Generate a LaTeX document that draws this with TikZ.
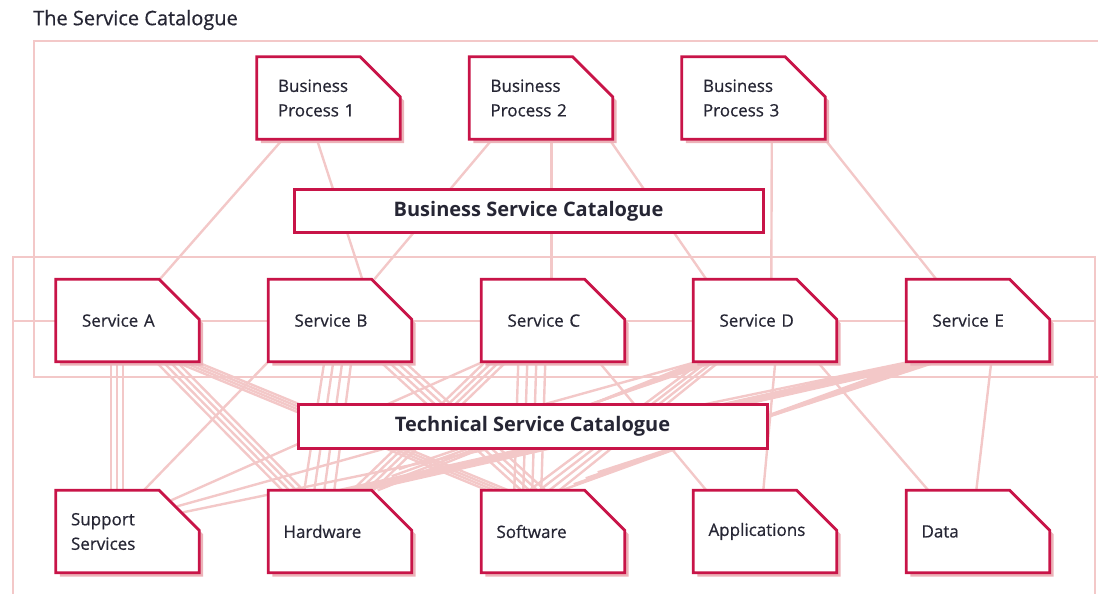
\documentclass[tikz,border=0pt]{standalone}
\usepackage{fontspec}
\setmainfont{Open Sans}
\newfontfamily\regfont{Open Sans}[FakeBold=0.6]
\usetikzlibrary{calc}
\definecolor{frame}{RGB}{200,20,72}
\definecolor{shadow}{RGB}{236,178,184}
\definecolor{linkc}{RGB}{243,200,200}
\definecolor{ink}{RGB}{38,38,52}
\pgfdeclarelayer{back}\pgfdeclarelayer{mid}
\pgfsetlayers{back,mid,main}
\newcommand\docshape[1]{%
  \fill[shadow] ([shift={(4pt,-4pt)}]#1.north west) -- ([shift={(-36pt,-4pt)}]#1.north east) -- ([shift={(4pt,-44pt)}]#1.north east) -- ([shift={(4pt,-4pt)}]#1.south east) -- ([shift={(4pt,-4pt)}]#1.south west) -- cycle;
  \draw[draw=frame, fill=white, line width=2.8pt, line join=miter] (#1.north west) -- ([xshift=-40pt]#1.north east) -- ([yshift=-40pt]#1.north east) -- (#1.south east) -- (#1.south west) -- cycle;}
\begin{document}
\begin{tikzpicture}[x=1pt,y=-1pt,
  doc/.style={rectangle, inner ysep=0pt, minimum height=82pt, font=\regfont\fontsize{17}{24.5}\selectfont, text=ink, align=left},
  bp/.style={doc, inner xsep=21pt, text width=101pt, minimum width=143pt},
  svc/.style={doc, inner xsep=26pt, text width=91pt, minimum width=143pt},
  res/.style={doc, inner xsep=15pt, text width=113pt, minimum width=143pt},
  cat/.style={rectangle, draw=frame, line width=3pt, fill=white, minimum width=469pt, minimum height=43pt, font=\bfseries\fontsize{20}{24}\selectfont, text=ink},
  lnk/.style={draw=linkc, line width=2.4pt},
]
\useasboundingbox (0,0) rectangle (1098,594);
\node[anchor=west, text=ink, font=\regfont\fontsize{20}{24}\selectfont, inner sep=0pt] (title) at (33,20) {The Service Catalogue};

\node[bp] (BPa) at (328.5,98) {Business\\Process 1};
\node[bp] (BPb) at (541,98) {Business\\Process 2};
\node[bp] (BPc) at (753.5,98) {Business\\Process 3};

\node[cat] (BSC) at (528.5,211) {Business Service Catalogue};

\node[svc, yshift=-2pt] (SvA) at (127.5,318.5) {Service A};
\node[svc, yshift=-2pt] (SvB) at (340,318.5) {Service B};
\node[svc, yshift=-2pt] (SvC) at (553,318.5) {Service C};
\node[svc, yshift=-2pt] (SvD) at (765,318.5) {Service D};
\node[svc, yshift=-2pt] (SvE) at (978,318.5) {Service E};

\node[cat, minimum height=44pt] (TSC) at (532.5,426) {Technical Service Catalogue};

\node[res] (Sup) at (127.5,531.5) {Support\\Services};
\node[res] (Hw) at (340,531.5) {Hardware};
\node[res] (Sw) at (553,531.5) {Software};
\node[res] (App) at (765,531.5) {Applications};
\node[res] (Dat) at (978,531.5) {Data};

\begin{pgfonlayer}{mid}
\foreach \n in {BPa,BPb,BPc,SvA,SvB,SvC,SvD,SvE,Sup,Hw,Sw,App,Dat} {\docshape{\n}}
\end{pgfonlayer}

\begin{pgfonlayer}{back}
% frames
\draw[lnk] (1098,41) -- (34,41) -- (34,377) -- (1098,377);
\draw[lnk] (13,594) -- (13,257) -- (1095,257) -- (1095,594);
\coordinate (rowL) at (13,321);
\coordinate (rowR) at (1095,321);
\draw[lnk] (rowL) -- (rowR);
% business process links
\draw[lnk] ([xshift=26]BPa.south west) -- ([xshift=104]SvA.north west);
\draw[lnk] ([xshift=60]BPa.south west) -- ([xshift=94]SvB.north west);
\draw[lnk] ([xshift=23]BPb.south west) -- ([xshift=106]SvB.north west);
\draw[lnk] ([xshift=82]BPb.south west) -- ([xshift=70]SvC.north west);
\draw[lnk] ([xshift=140]BPb.south west) -- ([xshift=13]SvD.north west);
\draw[lnk] ([xshift=90]BPc.south west) -- ([xshift=78]SvD.north west);
\draw[lnk] ([xshift=143]BPc.south west) -- ([xshift=30]SvE.north west);
% support links
\foreach \i in {0,1,2} \draw[lnk] ([xshift={55+6*\i}]SvA.south west) -- ([xshift={55+6*\i}]Sup.north west);
\draw[lnk] (SvB.south west) -- ([xshift=88]Sup.north west);
\draw[lnk] ([xshift=2]SvC.south west) -- ([shift={(-28pt,-10pt)}]Sup.north east);
\draw[lnk] ([xshift=4]SvD.south west) -- ([shift={(-22pt,-16pt)}]Sup.north east);
\draw[lnk] ([xshift=4]SvE.south west) -- ([shift={(-16pt,-22pt)}]Sup.north east);
% hardware / software bundles
\foreach \i in {0,...,3} {
  \draw[lnk] ([xshift={100+7*\i}]SvA.south west) -- ([xshift={14+7*\i}]Hw.north west);
  \draw[lnk] ([xshift={-24+7*\i}]SvA.south east) -- ([xshift={6+7*\i}]Sw.north west);
  \draw[lnk] ([xshift={56+9*\i}]SvB.south west) -- ([xshift={36+10*\i}]Hw.north west);
  \draw[lnk] ([xshift={112+8*\i}]SvB.south west) -- ([xshift={40+8*\i}]Sw.north west);
  \draw[lnk] ([xshift={4+7*\i}]SvC.south west) -- ([xshift={84+7*\i}]Hw.north west);
  \draw[lnk] ([xshift={37+9*\i}]SvC.south west) -- ([xshift={33+9*\i}]Sw.north west);
  \draw[lnk] ([xshift={4+6*\i}]SvD.south west) -- ([shift={({-34+7*\i},{-7*\i})}]Hw.north east);
  \draw[lnk] ([xshift={8+6*\i}]SvD.south west) -- ([xshift={48+10*\i}]Sw.north west);
  \draw[lnk] ([xshift={6+7*\i}]SvE.south west) -- ([xshift={70+9*\i}]Hw.north west);
  \draw[lnk] ([xshift={10+7*\i}]SvE.south west) -- ([shift={({-63+12*\i},{-6*\i})}]Sw.north east);
}
% applications / data
\draw[lnk] ([shift={(-26pt,0pt)}]SvC.south east) -- ([xshift=13]App.north west);
\draw[lnk] ([xshift=82]SvD.south west) -- ([xshift=70]App.north west);
\draw[lnk] ([xshift=124]SvD.south west) -- ([xshift=22]Dat.north west);
\draw[lnk] ([xshift=85]SvE.south west) -- ([xshift=70]Dat.north west);
\end{pgfonlayer}
\end{tikzpicture}
\end{document}
